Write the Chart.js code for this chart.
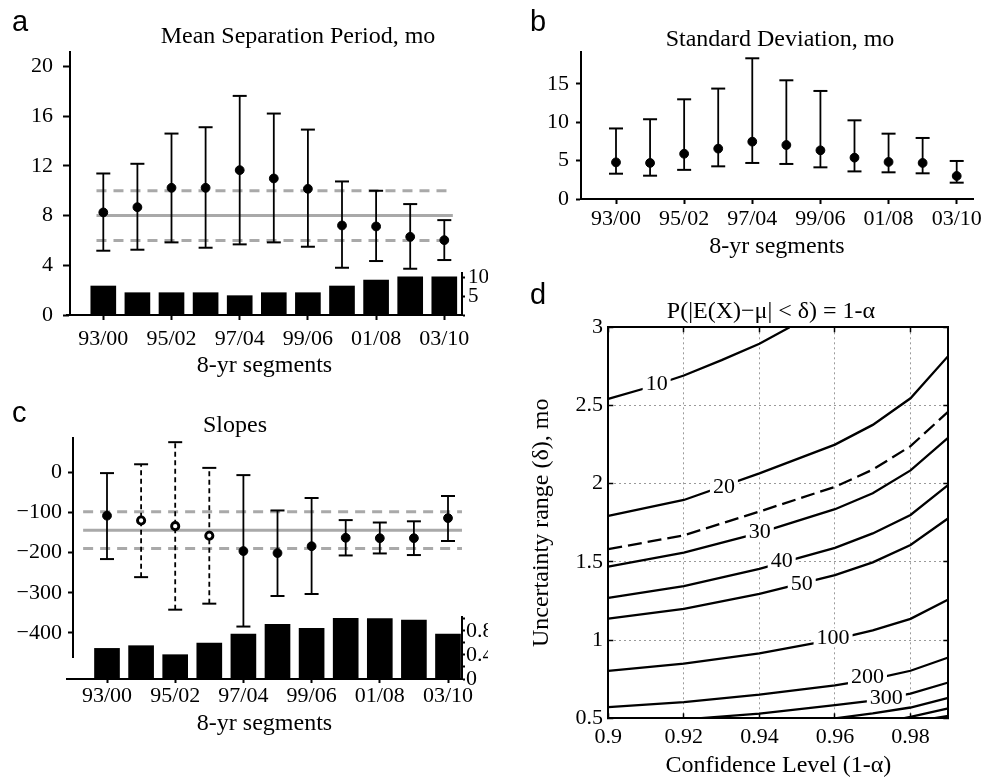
<!DOCTYPE html>
<html><head><meta charset="utf-8">
<script src="https://cdn.jsdelivr.net/npm/chart.js@4/dist/chart.umd.min.js"></script>
<style>
html,body{margin:0;padding:0;background:#fff;}
#wrap{position:relative;width:985px;height:781px;overflow:hidden;background:#fff;}
canvas{position:absolute;top:0;}
.t{position:absolute;font-family:"Liberation Serif","Times New Roman",serif;font-size:24px;line-height:24px;white-space:nowrap;text-align:center;width:400px;color:#000;}
.p{position:absolute;font-family:"Liberation Sans",Arial,sans-serif;font-size:29px;line-height:29px;color:#000;}
</style></head><body>
<div id="wrap">
<canvas id="cAtop"></canvas>
<canvas id="cAbar"></canvas>
<canvas id="cB"></canvas>
<canvas id="cCtop"></canvas>
<canvas id="cCbar"></canvas>
<canvas id="cD"></canvas>
<div class="p" style="left:12px;top:7px">a</div>
<div class="p" style="left:530px;top:7px">b</div>
<div class="p" style="left:12px;top:398px">c</div>
<div class="p" style="left:530px;top:280px">d</div>
<div class="t" style="left:98px;top:23px">Mean Separation Period, mo</div>
<div class="t" style="left:580px;top:26px">Standard Deviation, mo</div>
<div class="t" style="left:35px;top:412px">Slopes</div>
<div class="t" style="left:571px;top:298px">P(|E(X)&#8722;μ| &lt; δ) = 1-α</div>
</div>
<script>
// ---------------- data ----------------
const categories = ['93/00','94/01','95/02','96/03','97/04','98/05','99/06','00/07','01/08','02/09','03/10'];
const labelledIdx = [0, 2, 4, 6, 8, 10];

// (a) mean separation period, mo
const meanA = [8.25, 8.67, 10.23, 10.23, 11.65, 10.98, 10.15, 7.20, 7.12, 6.29, 6.02];
const hiA   = [11.38, 12.16, 14.59, 15.10, 17.62, 16.20, 14.91, 10.74, 9.99, 8.92, 7.63];
const loA   = [5.17, 5.25, 5.84, 5.41, 5.68, 5.84, 5.49, 3.80, 4.34, 3.72, 4.42];
const refA  = [8, 10, 6];            // overall mean, upper, lower
const barsA = [7.8, 6, 6, 6, 5.2, 6, 6, 7.8, 9.4, 10.3, 10.3];
const yTicksA = [0, 4, 8, 12, 16, 20];
const barTicksA = [0, 5, 10];

// (b) standard deviation, mo
const meanB = [4.78, 4.70, 5.90, 6.57, 7.48, 7.04, 6.35, 5.39, 4.83, 4.70, 3.00];
const hiB   = [9.20, 10.40, 13.00, 14.40, 18.35, 15.48, 14.09, 10.26, 8.52, 7.96, 4.96];
const loB   = [3.30, 3.04, 3.80, 4.26, 4.70, 4.57, 4.13, 3.60, 3.48, 3.35, 2.13];
const yTicksB = [0, 5, 10, 15];

// (c) slopes
const meanC = [-108, -120, -134, -158, -196, -201, -184, -163, -164, -164, -114];
const hiC   = [-2, 20, 75, 11, -7, -95, -64, -119, -125, -122, -59];
const loC   = [-216, -261, -342, -327, -384, -308, -303, -207, -202, -206, -171];
const weakC = [false, true, true, true, false, false, false, false, false, false, false];
const refC  = [-144, -98, -190];
const barsC = [0.51, 0.555, 0.405, 0.60, 0.75, 0.91, 0.845, 1.01, 1.005, 0.98, 0.75];
const yTicksC = [-400, -300, -200, -100, 0];
const barTicksC = [0, 0.2, 0.4, 0.6, 0.8, 1.0];
const barLabelsC = ['0', '', '0.4', '', '0.8', ''];

// (d) contours of sample size n
const dTicksX = [0.9, 0.92, 0.94, 0.96, 0.98];
const dTicksY = [0.5, 1, 1.5, 2, 2.5, 3];
const contour10  = [[0.9,2.542],[0.91,2.612],[0.92,2.692],[0.93,2.79],[0.94,2.895],[0.948,3.0]];
const contour20  = [[0.9,1.794],[0.92,1.896],[0.94,2.066],[0.96,2.25],[0.97,2.376],[0.98,2.546],[0.99,2.817]];
const contour25  = [[0.9,1.581],[0.92,1.67],[0.94,1.822],[0.96,1.98],[0.97,2.09],[0.98,2.24],[0.99,2.461]];
const contour30  = [[0.9,1.47],[0.92,1.56],[0.94,1.685],[0.96,1.837],[0.97,1.939],[0.98,2.085],[0.99,2.295]];
const contour40  = [[0.9,1.27],[0.92,1.345],[0.94,1.455],[0.96,1.59],[0.97,1.682],[0.98,1.8],[0.99,1.992]];
const contour50  = [[0.9,1.137],[0.92,1.2],[0.94,1.295],[0.96,1.415],[0.97,1.497],[0.98,1.608],[0.99,1.779]];
const contour100 = [[0.9,0.803],[0.92,0.85],[0.94,0.915],[0.96,1.004],[0.97,1.062],[0.98,1.136],[0.99,1.26]];
const contour200 = [[0.9,0.572],[0.92,0.603],[0.94,0.651],[0.96,0.71],[0.97,0.751],[0.98,0.804],[0.99,0.889]];
const contour300 = [[0.9237,0.5],[0.94,0.53],[0.96,0.584],[0.97,0.613],[0.98,0.658],[0.99,0.729]];
const contour400 = [[0.96,0.5],[0.97,0.531],[0.98,0.569],[0.99,0.63]];
const contour500 = [[0.978,0.5],[0.98,0.509],[0.99,0.563]];
const contour600 = [[0.986,0.5],[0.99,0.515]];
const contourLabels = ['10','20','30','40','50','100','200','300'];
const contourLabelX = [0.9128, 0.9306, 0.9401, 0.9459, 0.9512, 0.9595, 0.9686, 0.9736];
const contourLabelY = [2.642, 1.986, 1.694, 1.508, 1.363, 1.018, 0.77, 0.635];

// ---------------- setup ----------------
Chart.defaults.font.family = '"Liberation Serif","Times New Roman",serif';
Chart.defaults.font.size = 22;
Chart.defaults.color = '#000';
Chart.defaults.plugins.legend.display = false;
Chart.defaults.plugins.tooltip.enabled = false;
Chart.defaults.events = [];

const PAGE_H = 781;
const fixedSize = px => s => { if (s.isHorizontal()) s.height = px; else s.width = px; };
function build(id, ox, cw, area, boxes, cfg) {
  const c = document.getElementById(id);
  c.width = cw; c.height = PAGE_H; c.style.left = ox + 'px';
  cfg.options.responsive = false;
  cfg.options.animation = false;
  cfg.options.layout = { autoPadding: false, padding: {
    left: area.L - ox - (boxes.left || 0),
    right: ox + cw - area.R - (boxes.right || 0),
    top: area.T - (boxes.top || 0),
    bottom: PAGE_H - area.B - (boxes.bottom || 0) } };
  return new Chart(c, cfg);
}
const xRange = (L, R, p0, step) => ({ min: (L - p0) / step, max: (R - p0) / step });
const minus = v => v < 0 ? '\u2212' + Math.abs(v) : String(v);

function errorSets(mean, lo, hi, dashed, hollow) {
  const whisk = [];
  mean.forEach((m, i) => { whisk.push({x: i, y: lo[i]}, {x: i, y: hi[i]}, {x: i, y: null}); });
  const isH = i => hollow && hollow[i];
  return [
    { type: 'scatter', data: mean.map((m, i) => ({x: i, y: m})),
      pointRadius: mean.map((m, i) => isH(i) ? 3.6 : 4.4),
      pointBackgroundColor: mean.map((m, i) => isH(i) ? '#fff' : '#000'),
      pointBorderColor: '#000',
      pointBorderWidth: mean.map((m, i) => isH(i) ? 2.9 : 1) },
    { type: 'scatter', data: lo.map((v, i) => ({x: i, y: v})).concat(hi.map((v, i) => ({x: i, y: v}))),
      pointStyle: 'line', pointRadius: 7, pointBorderWidth: 2, pointBorderColor: '#000' },
    { type: 'line', data: whisk, borderColor: '#000', borderWidth: 1.8, pointRadius: 0, tension: 0, spanGaps: false,
      segment: { borderDash: ctx => (dashed && dashed[Math.floor(ctx.p0DataIndex / 3)]) ? [5, 3.5] : undefined } }
  ];
}
function refSets(values, span) {
  return values.map((v, k) => ({ type: 'line', data: [{x: span[0], y: v}, {x: span[1], y: v}],
    borderColor: '#a9a9a9', borderWidth: 3, pointRadius: 0, borderDash: k === 0 ? [] : [10, 7] }));
}
function hiddenX(r) { return { type: 'linear', display: false, bounds: 'data', min: r.min, max: r.max }; }
function catAxis(r, tl, pad, h) {
  return { type: 'linear', position: 'bottom', bounds: 'data', min: r.min, max: r.max, offset: false,
    afterBuildTicks: s => { s.ticks = labelledIdx.map(i => ({value: i})); },
    ticks: { autoSkip: false, maxRotation: 0, minRotation: 0, padding: pad, font: {size: 22}, color: '#000',
      callback: v => categories[v] !== undefined ? categories[v] : '' },
    grid: { offset: false, drawOnChartArea: false, tickLength: tl, tickColor: '#000', tickWidth: 2 },
    border: { display: true, color: '#000', width: 2 },
    title: { display: true, text: '8-yr segments', font: {size: 24}, color: '#000', padding: 0 },
    afterFit: fixedSize(h) };
}
function valAxis(pos, min, max, vals, labelFn, tl, pad, w, fs) {
  return { type: 'linear', position: pos, bounds: 'data', min, max,
    afterBuildTicks: s => { s.ticks = vals.map(v => ({value: v})); },
    ticks: { autoSkip: false, padding: pad, font: {size: fs || 22}, color: '#000', callback: labelFn },
    grid: { drawOnChartArea: false, tickLength: tl, tickColor: '#000', tickWidth: 2 },
    border: { display: true, color: '#000', width: 2 },
    afterFit: fixedSize(w) };
}

// ---------------- panel a ----------------
const areaAtop = {L: 70, R: 462, T: 52, B: 315};
const areaAbar = {L: 67, R: 462, T: 273, B: 315};
build('cAtop', 0, 985, areaAtop, {left: 60}, {
  type: 'scatter',
  data: { datasets: errorSets(meanA, loA, hiA).concat(refSets(refA, [-0.2, 10.25])) },
  options: { scales: {
    x: hiddenX(xRange(areaAtop.L, areaAtop.R, 103.3, 34.1)),
    y: valAxis('left', 0, 21.15, yTicksA, v => String(v), 7, 10, 60) } }
});
build('cAbar', 0, 490, areaAbar, {right: 26, bottom: 65.5}, {
  type: 'bar',
  data: { datasets: [{ data: barsA.map((v, i) => ({x: i, y: v})), backgroundColor: '#000', barThickness: 25, borderWidth: 0 }] },
  options: { scales: {
    x: catAxis(xRange(areaAbar.L, areaAbar.R, 103.3, 34.1), 5, 6, 65.5),
    y: valAxis('right', 0, 11.3, barTicksA, v => v === 0 ? '' : String(v), 3, 3, 26, 21) } }
});

// ---------------- panel b ----------------
const areaB = {L: 581, R: 973, T: 52, B: 199};
build('cB', 490, 495, areaB, {left: 40, bottom: 62.5}, {
  type: 'scatter',
  data: { datasets: errorSets(meanB, loB, hiB) },
  options: { scales: {
    x: catAxis(xRange(areaB.L, areaB.R, 616, 34.07), 5, 2, 62.5),
    y: valAxis('left', 0, 19.17, yTicksB, v => String(v), 5, 7, 40) } }
});

// ---------------- panel c ----------------
const areaCtop = {L: 73, R: 462, T: 438, B: 657};
const areaCbar = {L: 67, R: 462, T: 617, B: 679};
build('cCtop', 0, 490, areaCtop, {left: 65}, {
  type: 'scatter',
  data: { datasets: errorSets(meanC, loC, hiC, weakC, weakC).concat(refSets(refC, [-0.7, 10.41])) },
  options: { scales: {
    x: hiddenX(xRange(areaCtop.L, areaCtop.R, 107, 34.1)),
    y: valAxis('left', -459.8, 85.4, yTicksC, minus, 5, 6, 65) } }
});
build('cCbar', 0, 490, areaCbar, {right: 26, bottom: 59}, {
  type: 'bar',
  data: { datasets: [{ data: barsC.map((v, i) => ({x: i, y: v})), backgroundColor: '#000', barThickness: 25, borderWidth: 0 }] },
  options: { scales: {
    x: catAxis(xRange(areaCbar.L, areaCbar.R, 107, 34.1), 4, 0, 59),
    y: valAxis('right', 0, 1.033, barTicksC, (v, i) => barLabelsC[i], 3, 1, 26) } }
});

// ---------------- panel d ----------------
const contourLabelPlugin = {
  id: 'contourLabels',
  afterDatasetsDraw(chart) {
    const {ctx, scales: {x, y}} = chart;
    ctx.save();
    ctx.font = '22px "Liberation Serif","Times New Roman",serif';
    ctx.textAlign = 'center'; ctx.textBaseline = 'middle';
    contourLabels.forEach((txt, i) => {
      const px = x.getPixelForValue(contourLabelX[i]), py = y.getPixelForValue(contourLabelY[i]);
      const w = ctx.measureText(txt).width;
      ctx.fillStyle = '#fff'; ctx.fillRect(px - w / 2 - 3, py - 9, w + 6, 18);
      ctx.fillStyle = '#000'; ctx.fillText(txt, px, py + 1);
    });
    ctx.restore();
  }
};
const contourSet = (pts, dash) => ({ type: 'line', data: pts.map(p => ({x: p[0], y: p[1]})),
  borderColor: '#000', borderWidth: 2.3, pointRadius: 0, tension: 0, borderDash: dash || [] });
const dGrid = { color: '#9a9a9a', lineWidth: 1, tickLength: -5, tickColor: '#000', tickWidth: 1.5, tickBorderDash: [] };
const dBorder = { display: true, color: '#000', width: 2, dash: [2, 3] };
const areaD = {L: 608.3, R: 948.3, T: 327.3, B: 718.3};
build('cD', 490, 495, areaD, {left: 81.4, bottom: 61.5}, {
  type: 'scatter',
  data: { datasets: [
    contourSet(contour10), contourSet(contour20), contourSet(contour25, [14, 6]), contourSet(contour30),
    contourSet(contour40), contourSet(contour50), contourSet(contour100), contourSet(contour200),
    contourSet(contour300), contourSet(contour400), contourSet(contour500), contourSet(contour600) ] },
  plugins: [contourLabelPlugin],
  options: { scales: {
    x: { type: 'linear', position: 'bottom', bounds: 'data', min: 0.9, max: 0.99,
      afterBuildTicks: s => { s.ticks = dTicksX.map(v => ({value: v})); },
      ticks: { autoSkip: false, maxRotation: 0, padding: 11, callback: v => String(v) },
      grid: dGrid, border: dBorder,
      title: { display: true, text: 'Confidence Level (1-α)', font: {size: 24}, padding: 0 },
      afterFit: fixedSize(61.5) },
    y: { type: 'linear', position: 'left', bounds: 'data', min: 0.5, max: 3,
      afterBuildTicks: s => { s.ticks = dTicksY.map(v => ({value: v})); },
      ticks: { autoSkip: false, padding: 10.3, callback: v => String(v) },
      grid: dGrid, border: dBorder,
      title: { display: true, text: 'Uncertainty range (δ), mo', font: {size: 24}, padding: 0 },
      afterFit: fixedSize(81.4) },
    x2: { type: 'linear', position: 'top', bounds: 'data', min: 0.9, max: 0.99,
      afterBuildTicks: s => { s.ticks = dTicksX.map(v => ({value: v})); },
      ticks: { display: false }, grid: Object.assign({}, dGrid, {drawOnChartArea: false}),
      border: { display: true, color: '#000', width: 2 }, afterFit: fixedSize(0) },
    y2: { type: 'linear', position: 'right', bounds: 'data', min: 0.5, max: 3,
      afterBuildTicks: s => { s.ticks = dTicksY.map(v => ({value: v})); },
      ticks: { display: false }, grid: Object.assign({}, dGrid, {drawOnChartArea: false}),
      border: { display: true, color: '#000', width: 2 }, afterFit: fixedSize(0) }
  } }
});
</script>
</body></html>
